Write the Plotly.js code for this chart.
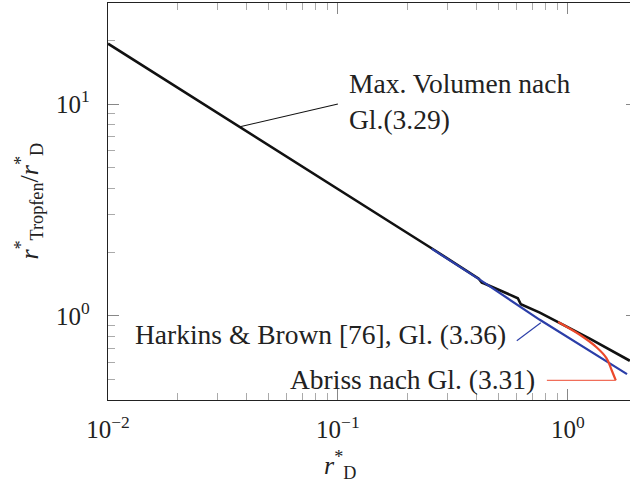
<!DOCTYPE html>
<html>
<head>
<meta charset="utf-8">
<script src="https://cdn.plot.ly/plotly-3.0.1.min.js"></script>
<style>
  html, body { margin: 0; padding: 0; background: #fff; overflow: hidden; }
  #chart { width: 640px; height: 486px; }
</style>
</head>
<body>
<div id="chart"></div>
<script>
// Max. Volumen nach Gl. (3.29)
const maxVolX = [0.01, 0.0375, 0.0836, 0.186, 0.2555, 0.410, 0.4227, 0.4357, 0.6062, 0.6248, 0.7555, 0.8957, 1.246, 1.861];
const maxVolY = [19.27, 7.81, 4.49, 2.59, 2.084, 1.496, 1.432, 1.416, 1.210, 1.133, 1.035, 0.940, 0.779, 0.613];

// Harkins & Brown [76], Gl. (3.36)
const harkinsX = [0.2555, 0.414, 0.7555, 1.473, 1.810];
const harkinsY = [2.075, 1.48, 0.957, 0.608, 0.530];

// Abriss nach Gl. (3.31)
const abrissX = [0.9074, 1.128, 1.333, 1.473, 1.549, 1.617];
const abrissY = [0.934, 0.813, 0.710, 0.631, 0.556, 0.495];

// Axis ticks
const xTickVals = [0.01, 0.1, 1];
const xTickText = ['10<sup>\u22122</sup>', '10<sup>\u22121</sup>', '10<sup>0</sup>'];
const yTickVals = [1, 10];
const yTickText = ['10<sup>0</sup>', '10<sup>1</sup>'];
const xMinorVals = [0.02, 0.03, 0.04, 0.05, 0.06, 0.07, 0.08, 0.09,
                    0.2, 0.3, 0.4, 0.5, 0.6, 0.7, 0.8, 0.9, 2];
const yMinorVals = [0.5, 0.6, 0.7, 0.8, 0.9, 2, 3, 4, 5, 6, 7, 8, 9, 20, 30];

// Label texts
const labelMaxVol = 'Max. Volumen nach<br>Gl.(3.29)';
const labelHarkins = 'Harkins &amp; Brown [76], Gl. (3.36)';
const labelAbriss = 'Abriss nach Gl. (3.31)';

const SERIF = 'Liberation Serif, Times New Roman, serif';
const BLACK = '#111111';
const BLUE = 'rgb(43,62,168)';
const RED = 'rgb(236,72,42)';
const LABEL_FONT = { family: SERIF, size: 27.5, color: '#222' };
const TICK_FONT = { family: SERIF, size: 25, color: '#222' };

const traces = [
  { x: maxVolX, y: maxVolY, mode: 'lines', line: { color: BLACK, width: 2.6 }, hoverinfo: 'skip' },
  { x: harkinsX, y: harkinsY, mode: 'lines', line: { color: BLUE, width: 2.2 }, hoverinfo: 'skip' },
  { x: abrissX, y: abrissY, mode: 'lines', line: { color: RED, width: 2.2, shape: 'spline' }, hoverinfo: 'skip' }
];

const lg = Math.log10;
const last = a => a[a.length - 1];

const layout = {
  width: 640,
  height: 486,
  margin: { l: 108, r: 3, t: 3, b: 86 },
  paper_bgcolor: '#fff',
  plot_bgcolor: '#fff',
  showlegend: false,
  font: { family: SERIF, color: '#222' },
  xaxis: {
    type: 'log',
    range: [-2, lg(2)],
    showgrid: false, zeroline: false,
    showline: true, linecolor: '#222', linewidth: 1.3, mirror: 'ticks',
    tickmode: 'array', tickvals: xTickVals, ticktext: xTickText,
    ticks: 'inside', ticklen: 11, tickcolor: '#888', tickwidth: 1,
    ticklabelstandoff: 7,
    tickfont: TICK_FONT,
    minor: { tickmode: 'array', tickvals: xMinorVals, ticks: 'inside', ticklen: 7, tickcolor: '#aaa', tickwidth: 1, showgrid: false }
  },
  yaxis: {
    type: 'log',
    range: [lg(0.4), lg(30)],
    showgrid: false, zeroline: false,
    showline: true, linecolor: '#222', linewidth: 1.3, mirror: 'ticks',
    tickmode: 'array', tickvals: yTickVals, ticktext: yTickText,
    ticks: 'inside', ticklen: 11, tickcolor: '#888', tickwidth: 1,
    ticklabelstandoff: 12,
    tickfont: TICK_FONT,
    minor: { tickmode: 'array', tickvals: yMinorVals, ticks: 'inside', ticklen: 7, tickcolor: '#aaa', tickwidth: 1, showgrid: false }
  },
  shapes: [
    // leader to the Max. Volumen curve
    { type: 'line', xref: 'x', yref: 'y', x0: maxVolX[1], y0: maxVolY[1], x1: 0.1, y1: 10.0,
      line: { color: BLACK, width: 1.1 } },
    // leader to the Harkins & Brown curve
    { type: 'line', xref: 'x', yref: 'y', x0: 0.600, y0: 0.762, x1: 0.763, y1: 0.927,
      line: { color: BLUE, width: 1.1 } },
    // leader to the end of the Abriss curve
    { type: 'line', xref: 'x', yref: 'y', x0: 0.811, y0: last(abrissY), x1: last(abrissX), y1: last(abrissY),
      line: { color: 'rgb(240,110,90)', width: 1.3 } }
  ],
  annotations: [
    { text: labelMaxVol, x: -0.962, y: 1.013, xref: 'x', yref: 'y', xanchor: 'left', yanchor: 'middle',
      align: 'left', showarrow: false, font: LABEL_FONT },
    { text: labelHarkins, x: -0.262, y: -0.0898, xref: 'x', yref: 'y', xanchor: 'right', yanchor: 'middle',
      showarrow: false, font: LABEL_FONT },
    { text: labelAbriss, x: -0.136, y: -0.302, xref: 'x', yref: 'y', xanchor: 'right', yanchor: 'middle',
      showarrow: false, font: LABEL_FONT },
    // axis titles
    { text: '<i>r</i><sup>*</sup><sub>D</sub>', xref: 'paper', yref: 'paper', x: 0.4386, y: -0.1637,
      xanchor: 'center', yanchor: 'middle', showarrow: false, font: { family: SERIF, size: 26, color: '#222' } },
    { text: '<i>r</i><sup>*</sup><sub>Tropfen</sub>/<i>r</i><sup>*</sup><sub>D</sub>', xref: 'paper', yref: 'paper',
      x: -0.151, y: 0.5, xanchor: 'center', yanchor: 'middle', textangle: -90, showarrow: false,
      font: { family: SERIF, size: 26, color: '#222' } }
  ]
};

Plotly.newPlot('chart', traces, layout, { staticPlot: true, displayModeBar: false });
</script>
</body>
</html>
